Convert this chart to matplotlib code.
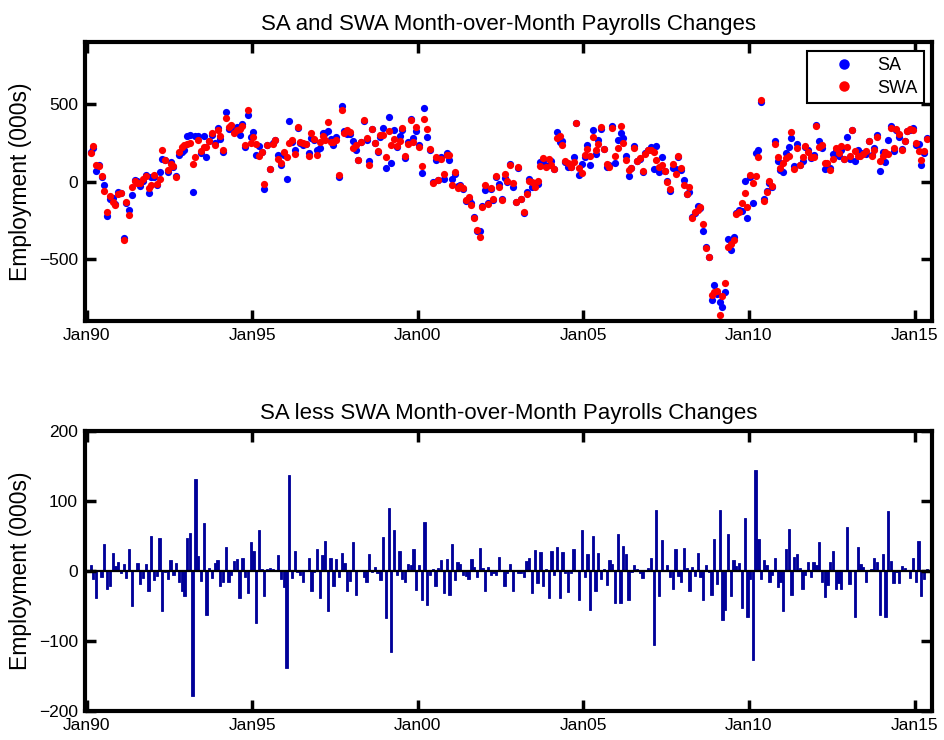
import numpy as np
import pandas as pd
import matplotlib
matplotlib.use("Agg")
import matplotlib.pyplot as plt
import matplotlib.dates as mdates

plt.rcParams['font.family'] = ['Liberation Sans', 'DejaVu Sans']

# Monthly change in nonfarm payrolls, seasonally adjusted (000s), Feb 1990 - May 2015
sa_change = [
    190, 215, 66, 103, 28, -22, -222, -115, -105, -145, -66,            # 1990 (Feb-Dec)
    -75, -363, -140, -184, -88, 8, 4, -26, 4, 43, -73, 26,              # 1991
    30, -20, 60, 145, 137, 62, 126, 96, 37, 172, 190, 200,              # 1992
    290, 300, -68, 290, 290, 180, 290, 160, 262, 300, 245, 345,         # 1993
    270, 190, 444, 335, 355, 325, 350, 298, 372, 224, 425, 286,         # 1994
    316, 169, 225, 192, -49, 235, 81, 244, 269, 169, 105, 167,          # 1995
    19, 385, 255, 205, 346, 248, 233, 239, 180, 280, 269, 200,          # 1996
    212, 312, 308, 325, 274, 233, 286, 30, 483, 325, 305, 303,          # 1997
    260, 200, 141, 254, 389, 265, 130, 335, 250, 190, 286, 346,         # 1998
    88, 415, 120, 332, 220, 290, 330, 150, 252, 402, 282, 325,          # 1999
    232, 56, 474, 286, 200, -6, 137, 12, 158, 19, 184, 137,             # 2000
    14, 47, -30, -20, -45, -124, -112, -135, -226, -318, -320, -160,    # 2001
    -52, -140, -45, -116, 32, -13, -115, 25, -2, 115, -36, -130,        # 2002
    88, -115, -205, -66, 19, -35, -8, -13, 126, 130, 98, 105,           # 2003
    132, 77, 316, 252, 262, 126, 90, 90, 158, 376, 43, 115,             # 2004
    160, 235, 107, 333, 175, 265, 338, 209, 90, 108, 355, 118,          # 2005
    269, 308, 282, 162, 34, 85, 226, 132, 147, 60, 180, 205,            # 2006
    224, 83, 226, 60, 154, 68, 4, -60, 88, 77, 154, 73,                 # 2007
    9, -77, -66, -228, -200, -154, -170, -316, -419, -487, -761, -665,  # 2008
    -724, -771, -803, -709, -368, -440, -359, -200, -182, -190, 2, -231,  # 2009
    30, -137, 180, 205, 510, -110, -60, -10, -35, 258, 132, 72,         # 2010
    60, 180, 222, 282, 98, 239, 108, 130, 222, 200, 150, 172,           # 2011
    361, 261, 218, 80, 100, 86, 175, 193, 165, 200, 145, 286,           # 2012
    147, 333, 130, 201, 175, 185, 178, 261, 169, 218, 301, 68,          # 2013
    190, 126, 265, 355, 195, 333, 286, 210, 263, 325, 330, 346,         # 2014
    233, 240, 105, 186, 277,                                            # 2015 (Jan-May)
]

# SA less SWA (000s), same months
sa_less_swa = [
    8, -11, -38, 1, -8, 39, -26, -22, 26, 7, 13,                        # 1990
    -3, 10, -10, 32, -50, 2, 12, -19, -10, 10, -29, 50,                 # 1991
    -13, -7, 47, -57, -1, -12, 16, -5, 11, -15, -29, -35,               # 1992
    47, 54, -178, 131, 22, -14, 69, -63, 5, -10, 12, 16,                # 1993
    -22, -15, 35, -16, -5, 15, 17, -39, 19, -9, -31, 41,                # 1994
    29, -74, 59, 3, -36, 3, 4, 3, 1, 23, -11, -23,                      # 1995
    -138, 137, -10, 29, -2, -5, -16, 1, 19, -28, -2, 31,                # 1996
    -39, 23, 43, -57, 18, -22, 17, -9, 26, 11, -28, -14,                # 1997
    42, -34, 2, 2, -8, -15, 25, -2, 6, -3, -13, 48,                     # 1998
    -67, 90, -116, 58, -5, 28, -12, -15, 10, 9, 31, -27,                # 1999
    9, -42, 70, -48, -6, 3, -22, 5, 16, -31, 17, -34,                   # 2000
    39, -13, 13, 10, -5, -7, -11, 17, 6, -9, 33, 5,                     # 2001
    -28, 6, -6, -3, -6, 20, 1, -21, -3, 10, -28, 1,                     # 2002
    -3, -3, -9, 14, 18, -31, 30, -17, 27, -22, 3, -39,                  # 2003
    29, -5, 35, -39, 27, -3, -30, -3, 31, 2, -41, 59,                   # 2004
    -8, 25, -56, 50, -28, 26, -12, 3, -20, 16, 10, -46,                 # 2005
    53, -46, 36, 25, -42, -2, 9, 3, -3, -10, 2, 4,                      # 2006
    19, -106, 87, -36, 45, 2, 9, -9, -25, 31, -7, -15,                  # 2007
    33, 5, -28, 6, -7, 26, -8, -41, 9, -2, -34, 46,                     # 2008
    -19, 87, -70, -55, 53, -36, 16, 7, 12, -53, 76, -66,                # 2009
    -12, -127, 145, 46, -12, 16, 8, -15, -6, 18, -23, -16,              # 2010
    -57, 32, 60, -34, 20, 24, 5, -25, -6, 13, -8, 13,                   # 2011
    8, 41, -15, -37, -20, 13, 29, -25, -17, -26, 2, 63,                 # 2012
    -19, 1, -65, 35, 10, 6, -15, 1, 3, 19, 13, -63,                     # 2013
    24, -65, 86, 14, -17, -1, -17, 7, 5, 2, -10, 18,                    # 2014
    -16, 43, -36, -11, 3,                                               # 2015
]

tick_years = [1990, 1995, 2000, 2005, 2010, 2015]
tick_labels = ["Jan90", "Jan95", "Jan00", "Jan05", "Jan10", "Jan15"]

sa = np.array(sa_change, dtype=float)
gap = np.array(sa_less_swa, dtype=float)
swa = sa - gap

months = pd.date_range("1990-02-01", periods=len(sa), freq="MS") + pd.Timedelta(days=14)
ticks = [pd.Timestamp(f"{y}-01-01") for y in tick_years]
x_left, x_right = pd.Timestamp("1989-12-14"), pd.Timestamp("2015-07-13")

fig = plt.figure(figsize=(9.44, 7.40), dpi=100)
ax1 = fig.add_axes([85 / 944, 1 - 321 / 740, 847 / 944, 279 / 740])
ax2 = fig.add_axes([85 / 944, 1 - 711 / 740, 847 / 944, 280 / 740])

BLUE = (0, 0, 1)
RED = (1, 0, 0)
NAVY = (0, 0, 0.6)

# Top panel: SA and SWA monthly changes as dots
ax1.plot(months, sa, "o", color=BLUE, ms=5.2, mec="none", label="SA")
ax1.plot(months, swa, "o", color=RED, ms=5.2, mec="none", label="SWA")
ax1.set_ylim(-895, 895)
ax1.set_yticks([-500, 0, 500])
ax1.set_title("SA and SWA Month-over-Month Payrolls Changes", fontsize=16, pad=9)
leg = ax1.legend(loc="upper right", bbox_to_anchor=(1 - 8 / 847, 1 - 9 / 279),
                 fontsize=13, markerscale=1.45, handlelength=3.4, handletextpad=0.15,
                 borderpad=0.35, labelspacing=0.3, fancybox=False, framealpha=1,
                 borderaxespad=0)
leg.get_frame().set_edgecolor("black")
leg.get_frame().set_linewidth(1.5)

# Bottom panel: SA less SWA as bars
ax2.bar(months, gap, width=25, color=NAVY, edgecolor=NAVY, linewidth=0.6)
ax2.axhline(0, color="black", lw=1.6)
ax2.set_ylim(-200, 200)
ax2.set_yticks([-200, -100, 0, 100, 200])
ax2.set_title("SA less SWA Month-over-Month Payrolls Changes", fontsize=16, pad=9)

for ax in (ax1, ax2):
    ax.set_xlim(x_left, x_right)
    ax.set_xticks(ticks)
    ax.set_xticklabels(tick_labels)
    ax.set_ylabel("Employment (000s)", fontsize=16.5)
    ax.yaxis.set_label_coords(-53 / 847, 0.5)
    ax.tick_params(direction="in", top=True, right=True, length=8, width=2.5,
                   labelsize=12.5, pad=5)
    for s in ax.spines.values():
        s.set_linewidth(3)

fig.savefig("out.png", dpi=100)
